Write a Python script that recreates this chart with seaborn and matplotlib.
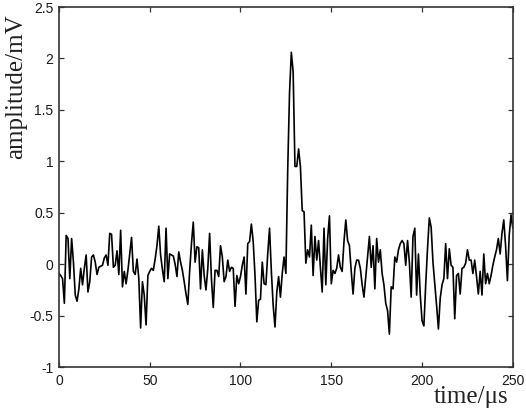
import numpy as np
import pandas as pd
import matplotlib
matplotlib.use("Agg")
import matplotlib.pyplot as plt
import seaborn as sns

amp_0_49 = [-0.09, -0.11, -0.14, -0.38, 0.28, 0.25, -0.14, 0.25, 0.02, -0.30,
            -0.36, -0.24, -0.04, -0.20, -0.04, 0.09, -0.27, -0.17, 0.07, 0.09,
            0.02, -0.10, -0.03, -0.02, -0.01, 0.06, 0.09, -0.01, 0.30, 0.29,
            -0.03, -0.01, 0.13, -0.10, 0.33, -0.22, -0.07, -0.19, -0.06, 0.10,
            0.26, -0.07, -0.10, 0.05, -0.14, -0.62, -0.17, -0.30, -0.59, -0.11]
amp_50_99 = [-0.07, -0.04, -0.06, 0.05, 0.18, 0.37, 0.09, -0.05, -0.17, 0.35,
             -0.14, 0.10, 0.09, 0.08, 0.00, -0.12, 0.12, 0.02, -0.06, -0.17,
             -0.29, -0.39, -0.07, 0.20, 0.41, 0.02, 0.17, 0.16, -0.24, 0.14,
             -0.11, -0.25, -0.04, 0.30, -0.14, -0.42, -0.06, -0.06, -0.12, 0.18,
             0.07, -0.17, -0.12, 0.04, -0.07, -0.03, -0.04, -0.41, -0.11, -0.19]
amp_100_149 = [-0.12, -0.01, 0.07, -0.29, 0.20, 0.22, 0.39, 0.22, -0.11, -0.56,
               -0.35, -0.34, 0.02, -0.19, -0.20, 0.10, 0.35, -0.07, -0.40, -0.61,
               -0.27, -0.12, -0.32, -0.09, 0.07, -0.09, 0.91, 1.66, 2.06, 1.87,
               0.95, 0.95, 1.12, 0.95, 0.52, 0.51, 0.01, 0.14, 0.07, 0.38,
               -0.11, 0.27, 0.04, 0.23, -0.03, -0.27, 0.35, -0.20, 0.25, 0.47]
amp_150_199 = [-0.19, -0.06, -0.09, -0.04, 0.09, -0.03, -0.07, 0.22, 0.43, 0.23,
               0.18, -0.07, -0.29, -0.04, 0.04, 0.04, -0.04, -0.20, -0.32, -0.12,
               0.07, 0.27, -0.03, 0.18, -0.24, 0.25, 0.02, 0.14, -0.09, -0.20,
               -0.38, -0.45, -0.68, -0.22, -0.24, 0.07, 0.02, 0.14, 0.20, 0.23,
               0.20, -0.01, 0.23, 0.02, -0.32, 0.27, 0.35, -0.30, 0.10, -0.30]
amp_200_250 = [-0.55, -0.60, -0.20, 0.15, 0.45, 0.36, 0.02, -0.19, -0.40, -0.63,
               -0.33, -0.20, -0.14, 0.20, -0.14, 0.15, -0.01, -0.03, -0.53, -0.11,
               -0.09, -0.29, -0.04, -0.03, 0.01, 0.14, 0.04, 0.04, -0.09, 0.04,
               -0.12, -0.29, -0.07, -0.30, 0.10, -0.19, -0.09, -0.19, -0.11, -0.01,
               0.07, 0.14, 0.25, 0.10, 0.30, 0.43, 0.18, -0.16, 0.28, 0.48, 0.35]

amplitude = amp_0_49 + amp_50_99 + amp_100_149 + amp_150_199 + amp_200_250
time_us = np.arange(len(amplitude))

x_ticks = [0, 50, 100, 150, 200, 250]
y_ticks = [-1, -0.5, 0, 0.5, 1, 1.5, 2, 2.5]
y_ticklabels = ["-1", "-0.5", "0", "0.5", "1", "1.5", "2", "2.5"]

df = pd.DataFrame({"time": time_us, "amplitude": amplitude})

sns.set_style("ticks")
plt.rcParams["font.family"] = ["Liberation Sans", "DejaVu Sans"]

fig = plt.figure(figsize=(5.26, 4.12), dpi=100)
ax = fig.add_axes([0.112, 0.109, 0.863, 0.874])

sns.lineplot(data=df, x="time", y="amplitude", ax=ax, color="black", linewidth=1.2)

ax.set_xlim(0, 250)
ax.set_ylim(-1, 2.5)
ax.set_xticks(x_ticks)
ax.set_yticks(y_ticks)
ax.set_yticklabels(y_ticklabels)

for side in ["top", "right", "bottom", "left"]:
    ax.spines[side].set_visible(True)
    ax.spines[side].set_color("#333333")
    ax.spines[side].set_linewidth(1.2)

ax.tick_params(direction="in", length=3.5, width=0.9, color="#333333",
               top=True, right=True, labelsize=10, labelcolor="#1a1a1a")
ax.tick_params(axis="x", pad=5)
ax.tick_params(axis="y", pad=4)

serif = ["Liberation Serif", "DejaVu Serif"]
ax.set_xlabel("time/\u03bcs", family=serif, fontsize=18, color="#222222")
ax.set_ylabel("amplitude/mV", family=serif, fontsize=18, color="#222222")
ax.xaxis.label.set_va("center")
ax.xaxis.set_label_coords(0.909, -0.083)
ax.yaxis.label.set_va("center")
ax.yaxis.set_label_coords(-0.095, 0.778)

fig.savefig("out.png", dpi=100, facecolor="white")
